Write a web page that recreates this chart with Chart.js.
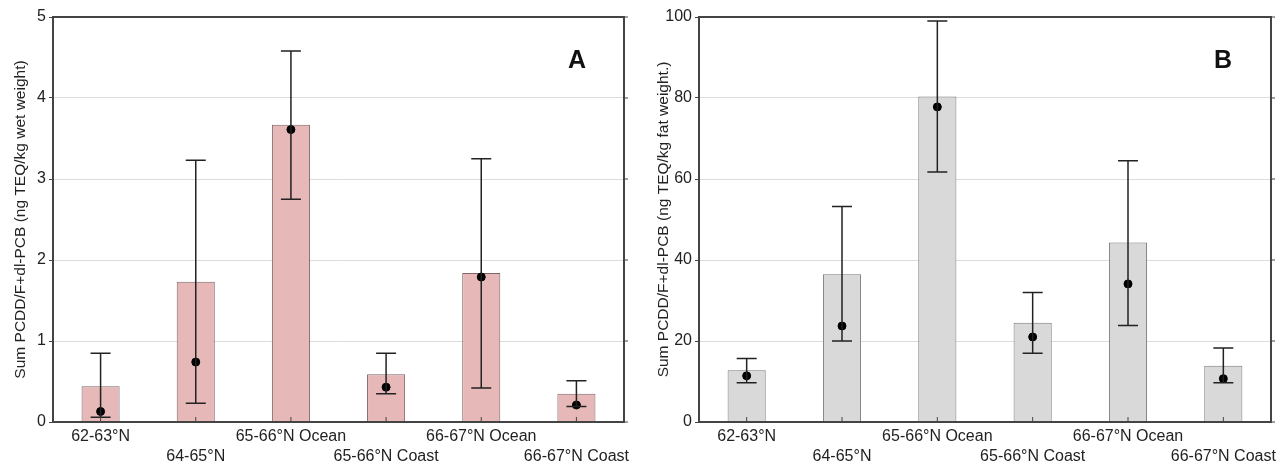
<!DOCTYPE html>
<html>
<head>
<meta charset="utf-8">
<script src="https://cdn.jsdelivr.net/npm/chart.js@4"></script>
<style>
  body { margin: 0; background: #fff; }
  .panel { position: absolute; top: 0; width: 643px; height: 466px; }
</style>
</head>
<body>
<div class="panel" style="left:0"><canvas id="chartA"></canvas></div>
<div class="panel" style="left:643px"><canvas id="chartB"></canvas></div>
<script>
var categories = ['62-63°N', '64-65°N', '65-66°N Ocean', '65-66°N Coast', '66-67°N Ocean', '66-67°N Coast'];

// panel A: wet weight
var meanA = [0.44, 1.73, 3.67, 0.59, 1.84, 0.35];
var medianA = [0.13, 0.74, 3.61, 0.43, 1.79, 0.21];
var upperA = [0.85, 3.23, 4.58, 0.85, 3.25, 0.51];
var lowerA = [0.06, 0.23, 2.75, 0.35, 0.42, 0.19];

// panel B: fat weight
var meanB = [12.8, 36.5, 80.4, 24.5, 44.3, 13.9];
var medianB = [11.4, 23.7, 77.8, 21.0, 34.1, 10.7];
var upperB = [15.7, 53.2, 99.0, 32.0, 64.5, 18.3];
var lowerB = [9.7, 20.0, 61.7, 17.0, 23.8, 9.7];

var ticksA = [0, 1, 2, 3, 4, 5];
var ticksB = [0, 20, 40, 60, 80, 100];

// staggered x labels: every second one on the lower line
var labels = categories.map(function(c, i) {
    return i % 2 === 0 ? [c, ''] : ['', c];
});

var font = "'Liberation Sans', Arial, sans-serif";

var errorBars = {
    id: 'errorBars',
    afterDatasetsDraw: function(chart, args, opts) {
        var ctx = chart.ctx;
        var x = chart.scales.x, y = chart.scales.y;
        var area = chart.chartArea;
        ctx.save();
        ctx.strokeStyle = '#222';
        ctx.lineWidth = 1.5;
        for (var i = 0; i < opts.upper.length; i++) {
            var px = x.getPixelForValue(i);
            var top = y.getPixelForValue(opts.upper[i]);
            var bot = y.getPixelForValue(opts.lower[i]);
            ctx.beginPath();
            ctx.moveTo(px, top); ctx.lineTo(px, bot);
            ctx.moveTo(px - 10, top); ctx.lineTo(px + 10, top);
            ctx.moveTo(px - 10, bot); ctx.lineTo(px + 10, bot);
            ctx.stroke();
        }
        // frame and small ticks
        ctx.strokeStyle = '#444';
        ctx.lineWidth = 2;
        ctx.strokeRect(area.left, area.top, area.right - area.left, area.bottom - area.top);
        ctx.lineWidth = 1;
        ctx.beginPath();
        for (var j = 0; j < opts.upper.length; j++) {
            var tx = x.getPixelForValue(j);
            ctx.moveTo(tx, area.bottom); ctx.lineTo(tx, area.bottom - 5);
        }
        y.ticks.forEach(function(t) {
            var ty = y.getPixelForValue(t.value);
            ctx.moveTo(area.right, ty); ctx.lineTo(area.right + 4, ty);
        });
        ctx.stroke();
        // panel letter
        ctx.fillStyle = '#111';
        ctx.font = 'bold 25px ' + font;
        ctx.textAlign = 'center';
        ctx.textBaseline = 'middle';
        ctx.fillText(opts.letter, area.right - opts.letterOffset, area.top + 44);
        ctx.restore();
    }
};

function makeChart(id, mean, median, upper, lower, tickVals, title, barColor, borderColor, letter, yWidth, padRight, letterOffset) {
    var ctx = document.getElementById(id).getContext('2d');
    return new Chart(ctx, {
        type: 'bar',
        data: {
            labels: labels,
            datasets: [{
                type: 'line',
                data: median,
                showLine: false,
                pointRadius: 4,
                pointBackgroundColor: '#000',
                pointBorderColor: '#000',
                order: 0
            }, {
                data: mean,
                backgroundColor: barColor,
                borderColor: borderColor,
                borderWidth: 1,
                barPercentage: 0.4,
                categoryPercentage: 1,
                order: 1
            }]
        },
        options: {
            responsive: true,
            maintainAspectRatio: false,
            animation: false,
            layout: { padding: { top: 17, right: padRight, left: 0, bottom: 0 } },
            plugins: {
                legend: { display: false },
                tooltip: { enabled: false },
                errorBars: { upper: upper, lower: lower, letter: letter, letterOffset: letterOffset }
            },
            scales: {
                x: {
                    grid: { display: false, drawTicks: false },
                    border: { display: false },
                    ticks: { color: '#222', font: { family: font, size: 16, lineHeight: 1.25 }, maxRotation: 0, autoSkip: false, padding: 5 },
                    afterFit: function(s) { s.height = 44; }
                },
                y: {
                    min: tickVals[0],
                    max: tickVals[tickVals.length - 1],
                    afterBuildTicks: function(s) {
                        s.ticks = tickVals.map(function(v) { return { value: v }; });
                    },
                    grid: { color: '#dcdcdc', lineWidth: 1, tickLength: 4, tickColor: '#444' },
                    border: { display: false },
                    ticks: { color: '#222', font: { family: font, size: 16 }, padding: 3 },
                    title: { display: true, text: title, color: '#222', font: { family: font, size: 15.5 }, padding: { top: 11, bottom: 0 } },
                    afterFit: function(s) { s.width = yWidth; }
                }
            }
        },
        plugins: [errorBars]
    });
}

makeChart('chartA', meanA, medianA, upperA, lowerA, ticksA,
    'Sum PCDD/F+dl-PCB (ng TEQ/kg wet weight)', '#e6b8b7', '#7d6565', 'A', 53, 19, 47);
makeChart('chartB', meanB, medianB, upperB, lowerB, ticksB,
    'Sum PCDD/F+dl-PCB (ng TEQ/kg fat weight.)', '#d9d9d9', '#7a7a7a', 'B', 56, 15, 48);
</script>
</body>
</html>
